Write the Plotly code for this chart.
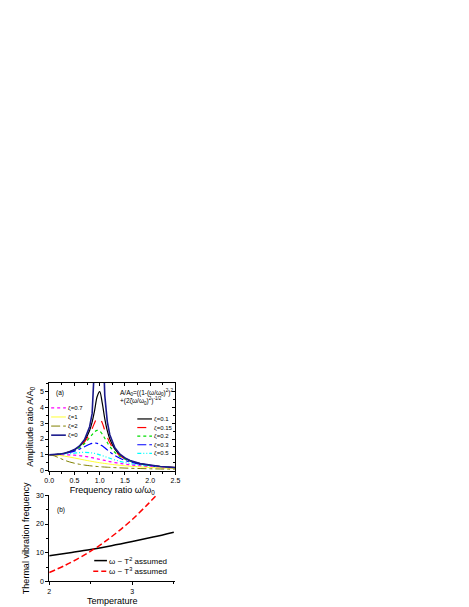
import plotly.graph_objects as go

W, H = 469, 607

# ---- panel (a): amplitude ratio vs frequency ratio ----
ratio = [0, 0.1, 0.2, 0.3, 0.4, 0.5, 0.6, 0.7, 0.8, 0.85, 0.9, 0.95, 1.0,
         1.05, 1.1, 1.15, 1.2, 1.3, 1.4, 1.5, 1.6, 1.8, 2.0, 2.2, 2.5]

amp_z0 = [1.0, 1.01, 1.042, 1.099, 1.19, 1.333, 1.563, 1.961, 2.778, 3.604, 5.263, 10.26, None,
          9.76, 4.762, 3.101, 2.273, 1.449, 1.042, 0.8, 0.641, 0.446, 0.333, 0.26, 0.19]
amp_z01 = [1.0, 1.01, 1.041, 1.097, 1.185, 1.322, 1.536, 1.891, 2.538, 3.073, 3.821, 4.683, 5.0,
           4.279, 3.288, 2.524, 1.995, 1.356, 1.0, 0.778, 0.628, 0.441, 0.33, 0.259, 0.19]
amp_z015 = [1.0, 1.01, 1.04, 1.094, 1.179, 1.307, 1.504, 1.813, 2.311, 2.653, 3.029, 3.32, 3.333,
            3.019, 2.557, 2.117, 1.759, 1.262, 0.954, 0.753, 0.613, 0.434, 0.327, 0.257, 0.189]
amp_z02 = [1.0, 1.009, 1.038, 1.09, 1.17, 1.288, 1.463, 1.719, 2.076, 2.279, 2.457, 2.549, 2.5,
           2.313, 2.051, 1.78, 1.536, 1.157, 0.9, 0.721, 0.593, 0.425, 0.322, 0.254, 0.187]
amp_z03 = [1.0, 1.008, 1.034, 1.078, 1.145, 1.238, 1.362, 1.514, 1.667, 1.722, 1.747, 1.729, 1.667,
           1.567, 1.444, 1.313, 1.185, 0.96, 0.784, 0.649, 0.546, 0.402, 0.31, 0.246, 0.183]
amp_z05 = [1.0, 1.005, 1.02, 1.044, 1.075, 1.109, 1.14, 1.155, 1.14, 1.118, 1.087, 1.047, 1.0,
           0.948, 0.893, 0.837, 0.782, 0.68, 0.589, 0.512, 0.448, 0.348, 0.277, 0.226, 0.172]
amp_z07 = [1.0, 1.0, 1.0, 0.998, 0.991, 0.975, 0.947, 0.905, 0.85, 0.818, 0.785, 0.75, 0.714,
           0.679, 0.643, 0.609, 0.576, 0.514, 0.458, 0.409, 0.366, 0.297, 0.244, 0.203, 0.159]
amp_z1 = [1.0, 0.99, 0.962, 0.917, 0.862, 0.8, 0.735, 0.671, 0.61, 0.581, 0.553, 0.526, 0.5,
          0.476, 0.453, 0.431, 0.41, 0.372, 0.338, 0.308, 0.281, 0.236, 0.2, 0.171, 0.138]
amp_z2 = [1.0, 0.937, 0.8, 0.664, 0.553, 0.468, 0.403, 0.351, 0.311, 0.293, 0.277, 0.263, 0.25,
          0.238, 0.227, 0.217, 0.208, 0.191, 0.176, 0.163, 0.152, 0.133, 0.117, 0.104, 0.089]

# ---- panel (b): thermal vibration frequency vs temperature ----
temp = [2.0, 2.25, 2.5, 2.75, 3.0, 3.25, 3.5]
freq_t2 = [8.9, 10.0, 11.15, 12.45, 13.9, 15.45, 17.15]
temp_cubic = [2.0, 2.2, 2.4, 2.6, 2.8, 3.0, 3.2, 3.3]
freq_t3 = [3.1, 5.7, 8.8, 12.4, 16.7, 21.6, 27.3, 30.3]

FONT = "Liberation Sans, Arial, sans-serif"

# legend entries: left block and right block of panel (a)
left_labels = ["ζ=0.7", "ζ=1", "ζ=2", "ζ=0"]
left_series = [amp_z07, amp_z1, amp_z2, amp_z0]
left_colors = ["#ff00ff", "#ffff33", "#808000", "#1a1a8c"]
left_dashes = ["dot", "solid", "dashdot", "solid"]
left_widths = [1.3, 1.0, 1.0, 1.6]

right_labels = ["ζ=0.1", "ζ=0.15", "ζ=0.2", "ζ=0.3", "ζ=0.5"]
right_series = [amp_z01, amp_z015, amp_z02, amp_z03, amp_z05]
right_colors = ["#000000", "#ff0000", "#00dd00", "#0000ff", "#00ffff"]
right_dashes = ["solid", "dash", "dot", "dashdot", "4px,2px,1px,2px,1px,2px"]
right_widths = [1.2, 1.2, 1.2, 1.2, 1.2]


def px(x):
    return x / W


def py(y):
    return 1 - y / H


fig = go.Figure()

# damped curves first, undamped on top
for s, c, d, w in zip(right_series + left_series[:3], right_colors + left_colors[:3],
                      right_dashes + left_dashes[:3], right_widths + left_widths[:3]):
    fig.add_trace(go.Scatter(x=ratio, y=s, mode="lines", line=dict(color=c, dash=d, width=w, shape="spline"),
                             xaxis="x", yaxis="y", showlegend=False, connectgaps=False))
fig.add_trace(go.Scatter(x=ratio, y=amp_z0, mode="lines",
                         line=dict(color=left_colors[3], width=left_widths[3]),
                         xaxis="x", yaxis="y", showlegend=False, connectgaps=False))
# empty trace so the mirrored top/right axes of panel (a) get drawn
fig.add_trace(go.Scatter(x=[None], y=[None], mode="lines", xaxis="x3", yaxis="y3",
                         showlegend=False, hoverinfo="skip"))

fig.add_trace(go.Scatter(x=temp, y=freq_t2, mode="lines", line=dict(color="black", width=1.5, shape="spline"),
                         xaxis="x2", yaxis="y2", showlegend=False))
fig.add_trace(go.Scatter(x=temp_cubic, y=freq_t3, mode="lines",
                         line=dict(color="red", width=1.5, dash="6px,3px", shape="spline"),
                         xaxis="x2", yaxis="y2", showlegend=False))

shapes = []
annotations = []


def legend_item(x0, x1, y, color, dash, width, text, size=6):
    shapes.append(dict(type="line", xref="paper", yref="paper", x0=px(x0), x1=px(x1),
                       y0=py(y), y1=py(y), line=dict(color=color, dash=dash, width=width)))
    annotations.append(dict(x=px(x1 + 0.5), y=py(y), xref="paper", yref="paper", text=text,
                            showarrow=False, xanchor="left", yanchor="middle",
                            font=dict(size=size, family=FONT, color="black")))


for i, (lab, c, d, w) in enumerate(zip(left_labels, left_colors, left_dashes, left_widths)):
    legend_item(39, 54, 400.5 + i * 9.2, c, d, w, lab)
for i, (lab, c, d, w) in enumerate(zip(right_labels, right_colors, right_dashes, right_widths)):
    legend_item(127, 142, 411.7 + i * 8.7, c, d, w, lab)

legend_item(83, 96, 555, "black", "solid", 1.5, "ω ~ T<sup>2</sup> assumed", size=8)
legend_item(82, 96, 565.7, "red", "5px,3px", 1.5, "ω ~ T<sup>3</sup> assumed", size=8)

annotations.append(dict(x=px(42), y=py(385), xref="paper", yref="paper", text="(a)", showarrow=False,
                        xanchor="left", yanchor="middle", font=dict(size=6.5, family=FONT)))
annotations.append(dict(x=px(43), y=py(504), xref="paper", yref="paper", text="(b)", showarrow=False,
                        xanchor="left", yanchor="middle", font=dict(size=6.5, family=FONT)))
annotations.append(dict(x=px(107), y=py(389), xref="paper", yref="paper", align="left",
                        text="A/A<sub>0</sub>=((1-(ω/ω<sub>0</sub>)<sup>2</sup>)<sup>2</sup>"
                             "<br>+(2ζω/ω<sub>0</sub>)<sup>2</sup>)<sup>-1/2</sup>",
                        showarrow=False, xanchor="left", yanchor="middle",
                        font=dict(size=6.5, family=FONT)))

axis_common = dict(showline=True, linecolor="black", linewidth=1, showgrid=False, zeroline=False,
                   ticks="outside", ticklen=3, tickcolor="black", tickwidth=1,
                   tickfont=dict(size=7, family=FONT, color="black"))
mirror_common = dict(showline=True, linecolor="black", linewidth=1, showgrid=False, zeroline=False,
                     ticks="inside", ticklen=3, tickcolor="black", showticklabels=False,
                     minor=dict(ticks="inside", ticklen=2, tickcolor="black"))

fig.update_layout(
    width=W, height=H, margin=dict(l=0, r=0, t=0, b=0),
    paper_bgcolor="white", plot_bgcolor="white", showlegend=False,
    font=dict(family=FONT, color="black"),
    xaxis=dict(domain=[px(37), px(166)], anchor="y", range=[0, 2.5], dtick=0.5, tickformat=".1f",
               minor=dict(dtick=0.25, ticks="outside", ticklen=2, tickcolor="black"),
               title=dict(text="Frequency ratio ω/ω<sub>0</sub>", standoff=3,
                          font=dict(size=9, family=FONT)), **axis_common),
    yaxis=dict(domain=[py(464), py(375)], anchor="x", range=[0, 5.56], dtick=1,
               minor=dict(dtick=0.5, ticks="outside", ticklen=2, tickcolor="black"),
               title=dict(text="Amplitude ratio A/A<sub>0</sub>", standoff=4,
                          font=dict(size=9, family=FONT)), **axis_common),
    xaxis3=dict(overlaying="x", side="top", anchor="y3", range=[0, 2.5], dtick=0.5,
                **mirror_common),
    yaxis3=dict(overlaying="y", side="right", anchor="x3", range=[0, 5.56], dtick=1,
                **mirror_common),
    xaxis2=dict(domain=[px(37), px(166)], anchor="y2", range=[2, 3.52], dtick=1,
                minor=dict(dtick=0.5, ticks="outside", ticklen=2, tickcolor="black"),
                title=dict(text="Temperature", standoff=3, font=dict(size=9, family=FONT)),
                **axis_common),
    yaxis2=dict(domain=[py(576), py(489)], anchor="x2", range=[0, 30], dtick=10,
                minor=dict(dtick=5, ticks="outside", ticklen=2, tickcolor="black"),
                title=dict(text="Thermal vibration frequency", standoff=4,
                           font=dict(size=9, family=FONT)), **axis_common),
    shapes=shapes,
    annotations=annotations,
)
fig.update_layout(xaxis3_minor_dtick=0.25, yaxis3_minor_dtick=0.5)

fig.write_html("out.html")
